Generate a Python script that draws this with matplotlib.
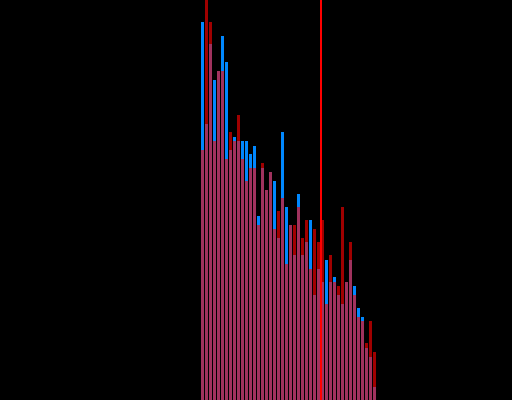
import numpy as np
import matplotlib
matplotlib.use("Agg")
import matplotlib.pyplot as plt

# bin counts for the two distributions
blue_counts = [378, 276, 356, 320, 329, 364, 338, 250, 263, 259, 259, 259,
               246, 254, 184, 232, 210, 228, 219, 162, 268, 193, 175, 145,
               206, 145, 158, 180, 105, 131, 118, 140, 118, 123, 105, 96,
               118, 140, 114, 92, 83, 52, 43, 13]
red_counts = [250, 402, 378, 259, 329, 329, 241, 268, 259, 285, 241, 219,
              232, 232, 175, 237, 210, 228, 171, 189, 202, 136, 175, 175,
              193, 162, 180, 131, 171, 158, 180, 96, 145, 118, 114, 193,
              118, 158, 105, 83, 79, 57, 79, 48]
threshold = 29.625

bins = np.arange(len(blue_counts))

fig = plt.figure(figsize=(5.12, 4.0), dpi=100, facecolor='black')
ax = fig.add_axes([0, 0, 1, 1])
ax.set_facecolor('black')

ax.bar(bins, blue_counts, width=0.75, color='#0088ff', linewidth=0)
ax.bar(bins, red_counts, width=0.75, color='#ff0000', alpha=0.63, linewidth=0)
ax.axvline(threshold, color='#ff0000', lw=1.44)

ax.set_xlim(-50.625, 77.375)
ax.set_ylim(0, 400)
ax.axis('off')

fig.savefig('out.png', dpi=100, facecolor='black')
